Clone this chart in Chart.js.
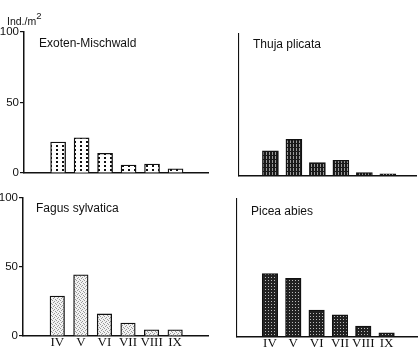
<!DOCTYPE html>
<html>
<head>
<meta charset="utf-8">
<script src="https://cdn.jsdelivr.net/npm/chart.js@4"></script>
<style>
  html, body { margin: 0; padding: 0; background: #fff; }
  #wrap { position: relative; width: 418px; height: 357px; overflow: hidden; }
  canvas { position: absolute; left: 0; top: 0; }
  .t { position: absolute; font-family: "Liberation Sans", Arial, sans-serif; font-size: 12px; line-height: 12px; color: #111; white-space: nowrap; }
  .u { position: absolute; font-family: "Liberation Sans", Arial, sans-serif; font-size: 10.5px; line-height: 11px; color: #111; white-space: nowrap; }
  .u sup { font-size: 9.5px; position: relative; top: -1px; }
</style>
</head>
<body>
<div id="wrap">
  <canvas id="c1" width="418" height="357"></canvas>
  <canvas id="c2" width="418" height="357"></canvas>
  <canvas id="c3" width="418" height="357"></canvas>
  <canvas id="c4" width="418" height="357"></canvas>
  <div class="u" style="left:7px; top:11px;">Ind./m<sup>2</sup></div>
  <div class="t" id="t1" style="left:39px; top:37px;">Exoten-Mischwald</div>
  <div class="t" id="t2" style="left:253px; top:38px;">Thuja plicata</div>
  <div class="t" id="t3" style="left:36px; top:202px;">Fagus sylvatica</div>
  <div class="t" id="t4" style="left:251px; top:205px;">Picea abies</div>
</div>
<script>
// ---- data ----
const months = ['IV', 'V', 'VI', 'VII', 'VIII', 'IX'];
const yTicks = [0, 50, 100];
const exotenMischwald = [22, 25, 14, 5.7, 6.4, 3];
const thujaPlicata = [17.5, 25.5, 9.2, 10.8, 2, 1.2];
const fagusSylvatica = [29, 44.4, 16, 9.4, 4.5, 4.5];
const piceaAbies = [46, 42.5, 19.5, 16, 8, 3];

// ---- patterns ----
function makePattern(w, h, draw) {
  const c = document.createElement('canvas');
  c.width = w; c.height = h;
  const g = c.getContext('2d');
  draw(g);
  return g.createPattern(c, 'repeat');
}
const pDots = makePattern(6, 4, g => {
  g.fillStyle = '#fff'; g.fillRect(0, 0, 6, 4);
  g.fillStyle = '#111'; g.fillRect(2, 1, 2, 2);
});
const pHatch = makePattern(3, 4, g => {
  g.fillStyle = '#1a1a1a'; g.fillRect(0, 0, 3, 4);
  g.fillStyle = '#9a9a9a'; g.fillRect(2, 0, 1, 3);
});
const pLight = makePattern(4, 4, g => {
  g.fillStyle = '#f2f2f2'; g.fillRect(0, 0, 4, 4);
  g.fillStyle = '#9a9a9a';
  g.fillRect(0, 0, 1, 1); g.fillRect(2, 1, 1, 1); g.fillRect(1, 2, 1, 1); g.fillRect(3, 3, 1, 1);
});
const pDark = makePattern(3, 3, g => {
  g.fillStyle = '#222'; g.fillRect(0, 0, 3, 3);
  g.fillStyle = '#bbb'; g.fillRect(1, 1, 1, 1);
});

function panel(id, values, fill, geo) {
  const ctx = document.getElementById(id);
  const xh = geo.showX ? 357 - geo.bottom : 0;
  new Chart(ctx, {
    type: 'bar',
    data: {
      datasets: [{
        data: values.map((v, i) => ({ x: i, y: v })),
        backgroundColor: fill,
        borderColor: '#111',
        borderWidth: 1.3,
        borderSkipped: 'bottom',
        barThickness: geo.barW
      }]
    },
    options: {
      responsive: false,
      animation: false,
      events: [],
      layout: {
        padding: {
          left: geo.showY ? 0 : geo.axisX,
          top: geo.top,
          right: 418 - geo.right,
          bottom: 357 - geo.bottom - xh
        }
      },
      plugins: { legend: { display: false }, tooltip: { enabled: false } },
      scales: {
        x: {
          type: 'linear',
          min: geo.xmin,
          max: geo.xmax,
          afterBuildTicks: s => { s.ticks = months.map((m, i) => ({ value: i })); },
          afterFit: s => { s.height = xh; },
          grid: { display: false, drawTicks: false },
          border: { display: true, color: '#111', width: 1.5 },
          ticks: {
            display: geo.showX,
            autoSkip: false,
            maxRotation: 0,
            padding: -1,
            color: '#111',
            font: { family: '"Liberation Serif", "Times New Roman", serif', size: 13 },
            callback: v => months[v]
          }
        },
        y: {
          min: 0,
          max: 100,
          afterBuildTicks: s => { s.ticks = yTicks.map(v => ({ value: v })); },
          afterFit: s => { s.width = geo.showY ? geo.axisX : 0; },
          grid: {
            drawOnChartArea: false,
            drawTicks: geo.showY,
            tickLength: 4,
            color: '#111',
            lineWidth: 1.2
          },
          border: { display: true, color: '#111', width: geo.showY ? 1.5 : 1.1 },
          ticks: {
            display: geo.showY,
            padding: 1,
            color: '#111',
            font: { family: '"Liberation Sans", Arial, sans-serif', size: 11.5 }
          }
        }
      }
    }
  });
}

panel('c1', exotenMischwald, pDots, { axisX: 24, right: 208, top: 32, bottom: 173, xmin: -0.8, xmax: 5.73, showY: true, showX: false, barW: 15 });
panel('c2', thujaPlicata, pHatch, { axisX: 239, right: 416, top: 34, bottom: 175.5, xmin: -0.71, xmax: 5.57, showY: false, showX: false, barW: 16 });
panel('c3', fagusSylvatica, pLight, { axisX: 23, right: 208, top: 198, bottom: 336, xmin: -0.8, xmax: 5.74, showY: true, showX: true, barW: 14.5 });
panel('c4', piceaAbies, pDark, { axisX: 237, right: 417, top: 199, bottom: 337, xmin: -0.77, xmax: 5.66, showY: false, showX: true, barW: 15.5 });
</script>
</body>
</html>
